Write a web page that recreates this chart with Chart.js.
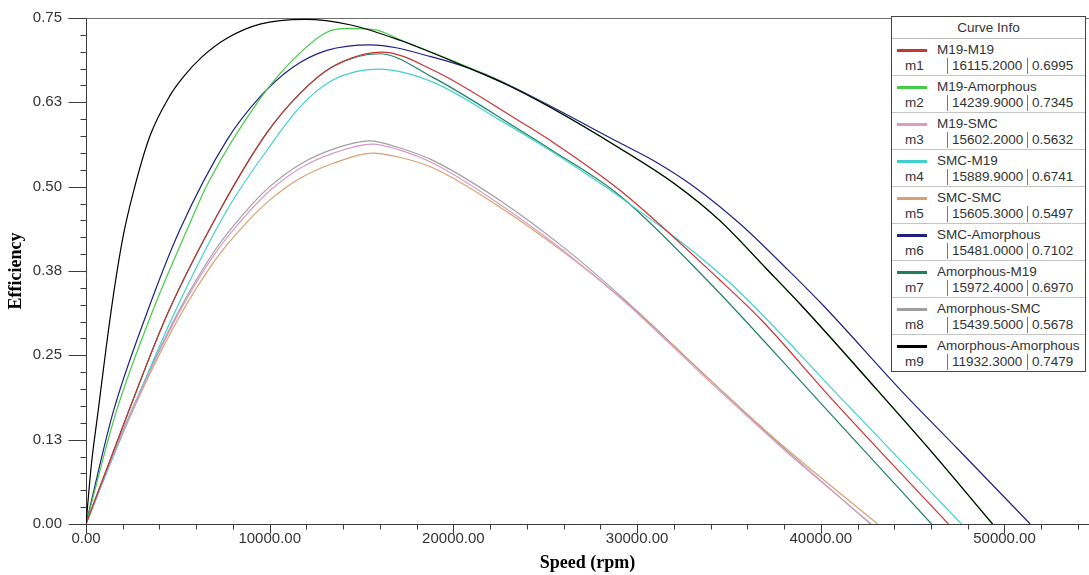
<!DOCTYPE html>
<html>
<head>
<meta charset="utf-8">
<title>Efficiency vs Speed</title>
<script src="https://cdn.jsdelivr.net/npm/chart.js@4.4.1/dist/chart.umd.min.js"></script>
<style>
  html, body { margin: 0; padding: 0; background: #fff; }
  #wrap { position: relative; width: 1089px; height: 575px; }
  #legend {
    position: absolute; left: 891px; top: 16px; width: 193px;
    border: 1px solid #444; background: #fff;
    font-family: 'Liberation Sans', Arial, sans-serif; font-size: 13.5px; color: #333;
  }
  #legend .head { height: 21px; line-height: 21px; text-align: center; border-bottom: 1px solid #bbb; }
  #legend .row { position: relative; height: 36px; border-bottom: 1px solid #c4c4c4; }
  #legend .row:last-child { border-bottom: none; }
  .sw { position: absolute; left: 5px; top: 10px; width: 30px; height: 3px; }
  .nm { position: absolute; left: 45px; top: 3px; line-height: 16px; white-space: nowrap; }
  .mk { position: absolute; left: 13px; top: 19px; line-height: 16px; }
  .sp, .ef { position: absolute; top: 19px; height: 16px; line-height: 16px; border-left: 1px solid #777; padding-left: 4px; }
  .sp { left: 55px; }
  .ef { left: 135px; }
</style>
</head>
<body>
<div id="wrap">
  <canvas id="chart" width="1089" height="575"></canvas>
  <div id="legend"><div class="head">Curve Info</div></div>
</div>
<script>
// axis range and tick steps
const speedMax = 54600;
const speedStep = 2000;      // minor tick, label every 10000
const speedLabelStep = 10000;
const effMax = 0.75;
const effStep = 0.025;       // minor tick, label every 0.125

// legend / marker info
const curveNames = ['M19-M19', 'M19-Amorphous', 'M19-SMC', 'SMC-M19', 'SMC-SMC',
  'SMC-Amorphous', 'Amorphous-M19', 'Amorphous-SMC', 'Amorphous-Amorphous'];
const markerLabels = ['m1', 'm2', 'm3', 'm4', 'm5', 'm6', 'm7', 'm8', 'm9'];
const markerSpeed = [16115.2, 14239.9, 15602.2, 15889.9, 15605.3, 15481.0, 15972.4, 15439.5, 11932.3];
const markerEff = [0.6995, 0.7345, 0.5632, 0.6741, 0.5497, 0.7102, 0.6970, 0.5678, 0.7479];

// curves: [speed (rpm), efficiency]
const m19M19 = [[0,0],[2290,0.165],[4460,0.313],[7290,0.465],[9850,0.58],[11640,0.638],[13440,0.678],
  [16115,0.6995],[18880,0.673],[23610,0.597],[25250,0.569],[29050,0.495],[34490,0.362],[36780,0.302],
  [40640,0.184],[46950,0]];
const m19Amorphous = [[0,0],[1630,0.165],[3590,0.313],[5500,0.436],[6640,0.505],[9470,0.63],[11260,0.688],
  [13110,0.729],[14240,0.7345],[15830,0.732],[17080,0.718],[20730,0.678],[23000,0.65],[25250,0.618],
  [29050,0.557],[32000,0.505],[34490,0.45],[37050,0.378],[39010,0.322],[43090,0.198],[46000,0.108],[49350,0]];
const m19Smc = [[0,0],[1500,0.104],[3000,0.198],[5000,0.31],[7000,0.4],[8650,0.456],[10000,0.494],
  [11640,0.527],[13500,0.55],[15602,0.5632],[17000,0.555],[18880,0.535],[22520,0.474],[26000,0.405],
  [29220,0.332],[34110,0.207],[37760,0.116],[42750,0]];
const smcM19 = [[0,0],[2390,0.16],[4680,0.305],[7670,0.465],[9850,0.554],[11640,0.618],[13440,0.658],
  [15890,0.6741],[18880,0.655],[22520,0.599],[25250,0.554],[29050,0.485],[34870,0.362],[41190,0.184],
  [47660,0]];
const smcSmc = [[0,0],[1500,0.102],[3000,0.195],[5000,0.303],[7000,0.39],[8650,0.444],[10000,0.48],
  [11640,0.512],[13500,0.535],[15605,0.5497],[17000,0.544],[18880,0.528],[22520,0.47],[26000,0.403],
  [29220,0.333],[34110,0.21],[37760,0.12],[43090,0]];
const smcAmorphous = [[0,0],[1470,0.165],[3320,0.313],[5110,0.436],[7670,0.569],[9470,0.633],[11260,0.677],
  [13110,0.702],[15481,0.7102],[18880,0.692],[21600,0.668],[24320,0.633],[29050,0.565],[31000,0.537],
  [33100,0.5],[35600,0.445],[38200,0.377],[40200,0.322],[44400,0.197],[47500,0.11],[51400,0]];
const amorphousM19 = [[0,0],[2290,0.165],[4460,0.313],[7290,0.465],[9850,0.58],[11640,0.638],[13440,0.678],
  [15972,0.697],[18880,0.662],[23610,0.584],[25250,0.556],[29050,0.487],[33790,0.362],[39830,0.184],
  [46030,0]];
const amorphousSmc = [[0,0],[1500,0.105],[3000,0.2],[5000,0.313],[7000,0.405],[8650,0.462],[10000,0.5],
  [11640,0.533],[13500,0.556],[15440,0.5678],[17000,0.558],[18880,0.539],[22520,0.48],[26000,0.41],
  [29220,0.335],[34110,0.21],[37760,0.118],[42700,0]];
const amorphousAmorphous = [[0,0],[300,0.09],[650,0.165],[1100,0.262],[1550,0.35],[2010,0.425],[2560,0.49],
  [3480,0.575],[4570,0.635],[5280,0.662],[6300,0.692],[7670,0.72],[9470,0.741],[11932,0.748],[14360,0.74],
  [17080,0.717],[20730,0.677],[23000,0.65],[25250,0.618],[29050,0.557],[32000,0.505],[34490,0.45],
  [37050,0.378],[39010,0.322],[43090,0.198],[46000,0.108],[49350,0]];

const curves = [m19M19, m19Amorphous, m19Smc, smcM19, smcSmc, smcAmorphous, amorphousM19, amorphousSmc, amorphousAmorphous];
const lineColors = ['#cc3333', '#44cc44', '#d89ac8', '#40d0d0', '#d8a070', '#202080', '#208060', '#a0a0a0', '#000000'];

// legend table
const legend = document.getElementById('legend');
curveNames.forEach((name, i) => {
  const row = document.createElement('div');
  row.className = 'row';
  row.innerHTML = `<div class="sw" style="background:${lineColors[i]}"></div>
    <div class="nm">${name}</div>
    <div class="mk">${markerLabels[i]}</div>
    <div class="sp">${markerSpeed[i].toFixed(4)}</div>
    <div class="ef">${markerEff[i].toFixed(4)}</div>`;
  legend.appendChild(row);
});

const isMajorSpeed = (v) => Math.round(v) % speedLabelStep === 0;
const isMajorEff = (v) => Math.round(v / effStep) % 5 === 0;
// 0.125 -> "0.13" like the original axis
const effLabel = (v) => (Math.round(v / effStep) / Math.round(1 / effStep)).toFixed(2);

// axis lines + long/short tick marks like the original plot
const axisFrame = {
  id: 'axisFrame',
  beforeDatasetsDraw(chart) {
    const { ctx, chartArea } = chart;
    const sx = chart.scales.x, sy = chart.scales.y;
    const x0 = Math.round(sx.getPixelForValue(0)) + 0.5;
    const y0 = Math.round(sy.getPixelForValue(0)) + 0.5;
    const yTop = Math.round(sy.getPixelForValue(effMax)) + 0.5;
    ctx.save();
    ctx.lineWidth = 1;
    ctx.strokeStyle = '#707070';
    ctx.beginPath();
    ctx.moveTo(x0 - 18, yTop);
    ctx.lineTo(chartArea.right, yTop);
    ctx.stroke();

    ctx.strokeStyle = '#3c3c3c';
    ctx.beginPath();
    ctx.moveTo(x0, yTop);
    ctx.lineTo(x0, y0 + 8);
    ctx.moveTo(x0 - 17, y0);
    ctx.lineTo(chartArea.right, y0);
    sy.ticks.forEach(t => {
      const p = Math.round(sy.getPixelForValue(t.value)) + 0.5;
      ctx.moveTo(x0 - (isMajorEff(t.value) ? 18 : 6), p);
      ctx.lineTo(x0, p);
    });
    sx.ticks.forEach(t => {
      const p = Math.round(sx.getPixelForValue(t.value)) + 0.5;
      ctx.moveTo(p, y0);
      ctx.lineTo(p, y0 + (isMajorSpeed(t.value) ? 9 : 5));
    });
    ctx.stroke();
    ctx.restore();
  }
};

const tickFont = { family: "'Liberation Sans', Arial, sans-serif", size: 15 };
const titleFont = { family: "'Liberation Serif', 'Times New Roman', serif", size: 18, weight: 'bold' };

new Chart(document.getElementById('chart'), {
  type: 'line',
  data: {
    datasets: curves.map((pts, i) => ({
      label: curveNames[i],
      data: pts.map(([x, y]) => ({ x, y })),
      borderColor: lineColors[i],
      backgroundColor: lineColors[i],
      order: i === 8 ? -1 : i
    }))
  },
  options: {
    responsive: false,
    animation: false,
    devicePixelRatio: 1,
    layout: { padding: { top: 18, left: 0, right: 0, bottom: 0 } },
    plugins: { legend: { display: false }, tooltip: { enabled: false } },
    elements: {
      point: { radius: 0 },
      line: { borderWidth: 1.2, cubicInterpolationMode: 'monotone' }
    },
    scales: {
      x: {
        type: 'linear', min: 0, max: speedMax,
        afterBuildTicks: (s) => {
          const ticks = [];
          for (let v = 0; v <= speedMax; v += speedStep) ticks.push({ value: v });
          s.ticks = ticks;
        },
        afterFit: (s) => { s.height = 51; s.paddingLeft = 0; s.paddingRight = 0; },
        grid: { display: false, drawTicks: false },
        border: { display: false },
        ticks: {
          autoSkip: false, maxRotation: 0, minRotation: 0,
          padding: 6, color: '#333', font: tickFont,
          callback: (v) => isMajorSpeed(v) ? Math.round(v).toFixed(2) : ''
        },
        title: { display: true, text: 'Speed (rpm)', color: '#000', font: titleFont, padding: { top: 0, bottom: 1 } }
      },
      y: {
        min: 0, max: effMax,
        afterBuildTicks: (s) => {
          const ticks = [];
          for (let i = 0; i * effStep <= effMax + 1e-9; i++) ticks.push({ value: i * effStep });
          s.ticks = ticks;
        },
        afterFit: (s) => { s.width = 86; s.paddingTop = 0; s.paddingBottom = 0; },
        grid: { display: false, drawTicks: false },
        border: { display: false },
        ticks: {
          autoSkip: false, padding: 24, color: '#333', font: tickFont,
          callback: (v) => isMajorEff(v) ? effLabel(v) : ''
        },
        title: { display: true, text: 'Efficiency', color: '#000', font: titleFont, padding: { top: 6, bottom: 0 } }
      }
    }
  },
  plugins: [axisFrame]
});
</script>
</body>
</html>
